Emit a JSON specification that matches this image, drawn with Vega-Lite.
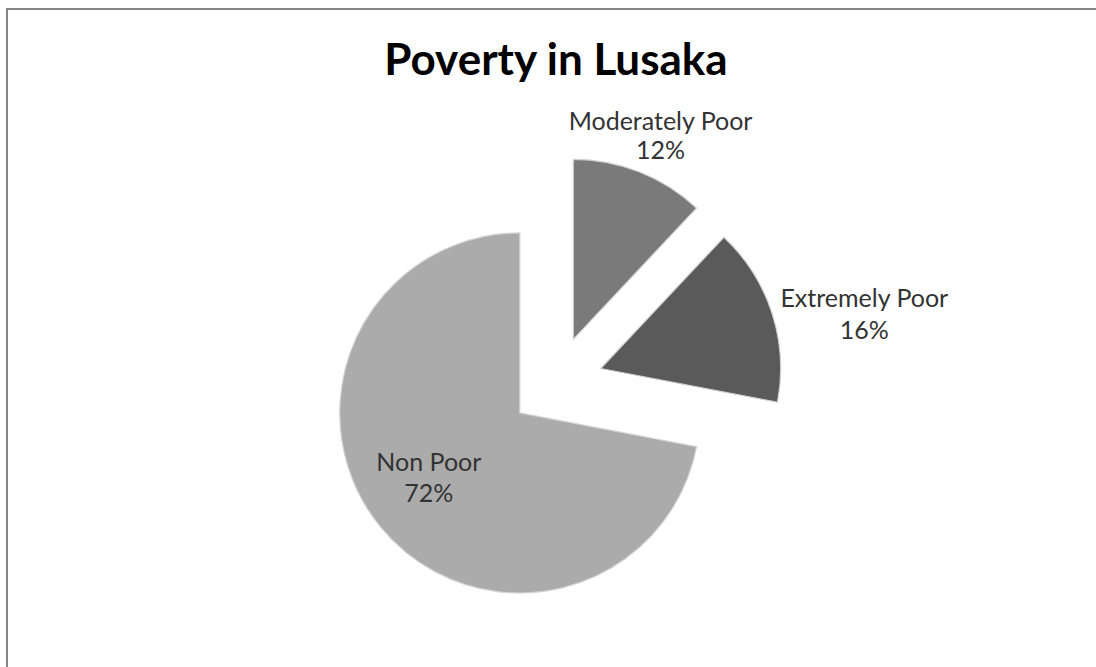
{
  "$schema": "https://vega.github.io/schema/vega-lite/v6.json",
  "width": 1098,
  "height": 748,
  "autosize": {"type": "none"},
  "padding": {"left": 7, "top": 9, "right": -9, "bottom": -90},
  "background": "white",
  "view": {"stroke": "#858585", "strokeWidth": 2, "fill": "white"},
  "title": {
    "text": "Poverty in Lusaka",
    "font": "Lato",
    "fontSize": 44,
    "fontWeight": "bold",
    "color": "#000000",
    "anchor": "middle",
    "frame": "group",
    "baseline": "alphabetic",
    "offset": -68,
    "dy": 42
  },
  "data": {
    "values": [
      {"category": "Moderately Poor", "share": 0.12},
      {"category": "Extremely Poor", "share": 0.16},
      {"category": "Non Poor", "share": 0.72}
    ]
  },
  "encoding": {
    "theta": {"field": "share", "type": "quantitative", "stack": true},
    "order": {"field": "share", "type": "quantitative", "sort": "ascending"}
  },
  "layer": [
    {
      "mark": {
        "type": "arc",
        "radius": 180,
        "xOffset": {"expr": "47*sin(PI*(datum.share_start+datum.share_end))"},
        "yOffset": {"expr": "-47*cos(PI*(datum.share_start+datum.share_end))"},
        "stroke": "#d2d2d2",
        "strokeWidth": 1.2
      },
      "encoding": {
        "color": {
          "field": "category",
          "type": "nominal",
          "scale": {
            "domain": ["Moderately Poor", "Extremely Poor", "Non Poor"],
            "range": ["#7a7a7a", "#5a5a5a", "#ababab"]
          },
          "legend": null
        }
      }
    },
    {
      "mark": {
        "type": "text",
        "font": "Lato",
        "fontSize": 25,
        "color": "#333333",
        "baseline": "alphabetic",
        "align": "center",
        "radius": {"expr": "datum.share > 0.5 ? 118 : 192"},
        "dx": {"expr": "datum.share > 0.5 ? 0 : (sin(PI*(datum.share_start+datum.share_end)) > 0.6 ? 81 : 45*sin(PI*(datum.share_start+datum.share_end)))"},
        "dy": {"expr": "datum.share > 0.5 ? -17 : (cos(PI*(datum.share_start+datum.share_end)) > 0.6 ? -31 : -2)"},
        "xOffset": {"expr": "47*sin(PI*(datum.share_start+datum.share_end))"},
        "yOffset": {"expr": "-47*cos(PI*(datum.share_start+datum.share_end))"}
      },
      "encoding": {
        "detail": {"field": "category", "type": "nominal"},
        "text": {"field": "category", "type": "nominal"}
      }
    },
    {
      "mark": {
        "type": "text",
        "font": "Lato",
        "fontSize": 25,
        "color": "#333333",
        "baseline": "alphabetic",
        "align": "center",
        "radius": {"expr": "datum.share > 0.5 ? 118 : 192"},
        "dx": {"expr": "datum.share > 0.5 ? 0 : (sin(PI*(datum.share_start+datum.share_end)) > 0.6 ? 81 : 45*sin(PI*(datum.share_start+datum.share_end)))"},
        "dy": {"expr": "datum.share > 0.5 ? 14 : (cos(PI*(datum.share_start+datum.share_end)) > 0.6 ? -2 : 30)"},
        "xOffset": {"expr": "47*sin(PI*(datum.share_start+datum.share_end))"},
        "yOffset": {"expr": "-47*cos(PI*(datum.share_start+datum.share_end))"}
      },
      "encoding": {
        "detail": {"field": "category", "type": "nominal"},
        "text": {"field": "share", "type": "quantitative", "format": ".0%"}
      }
    }
  ]
}
